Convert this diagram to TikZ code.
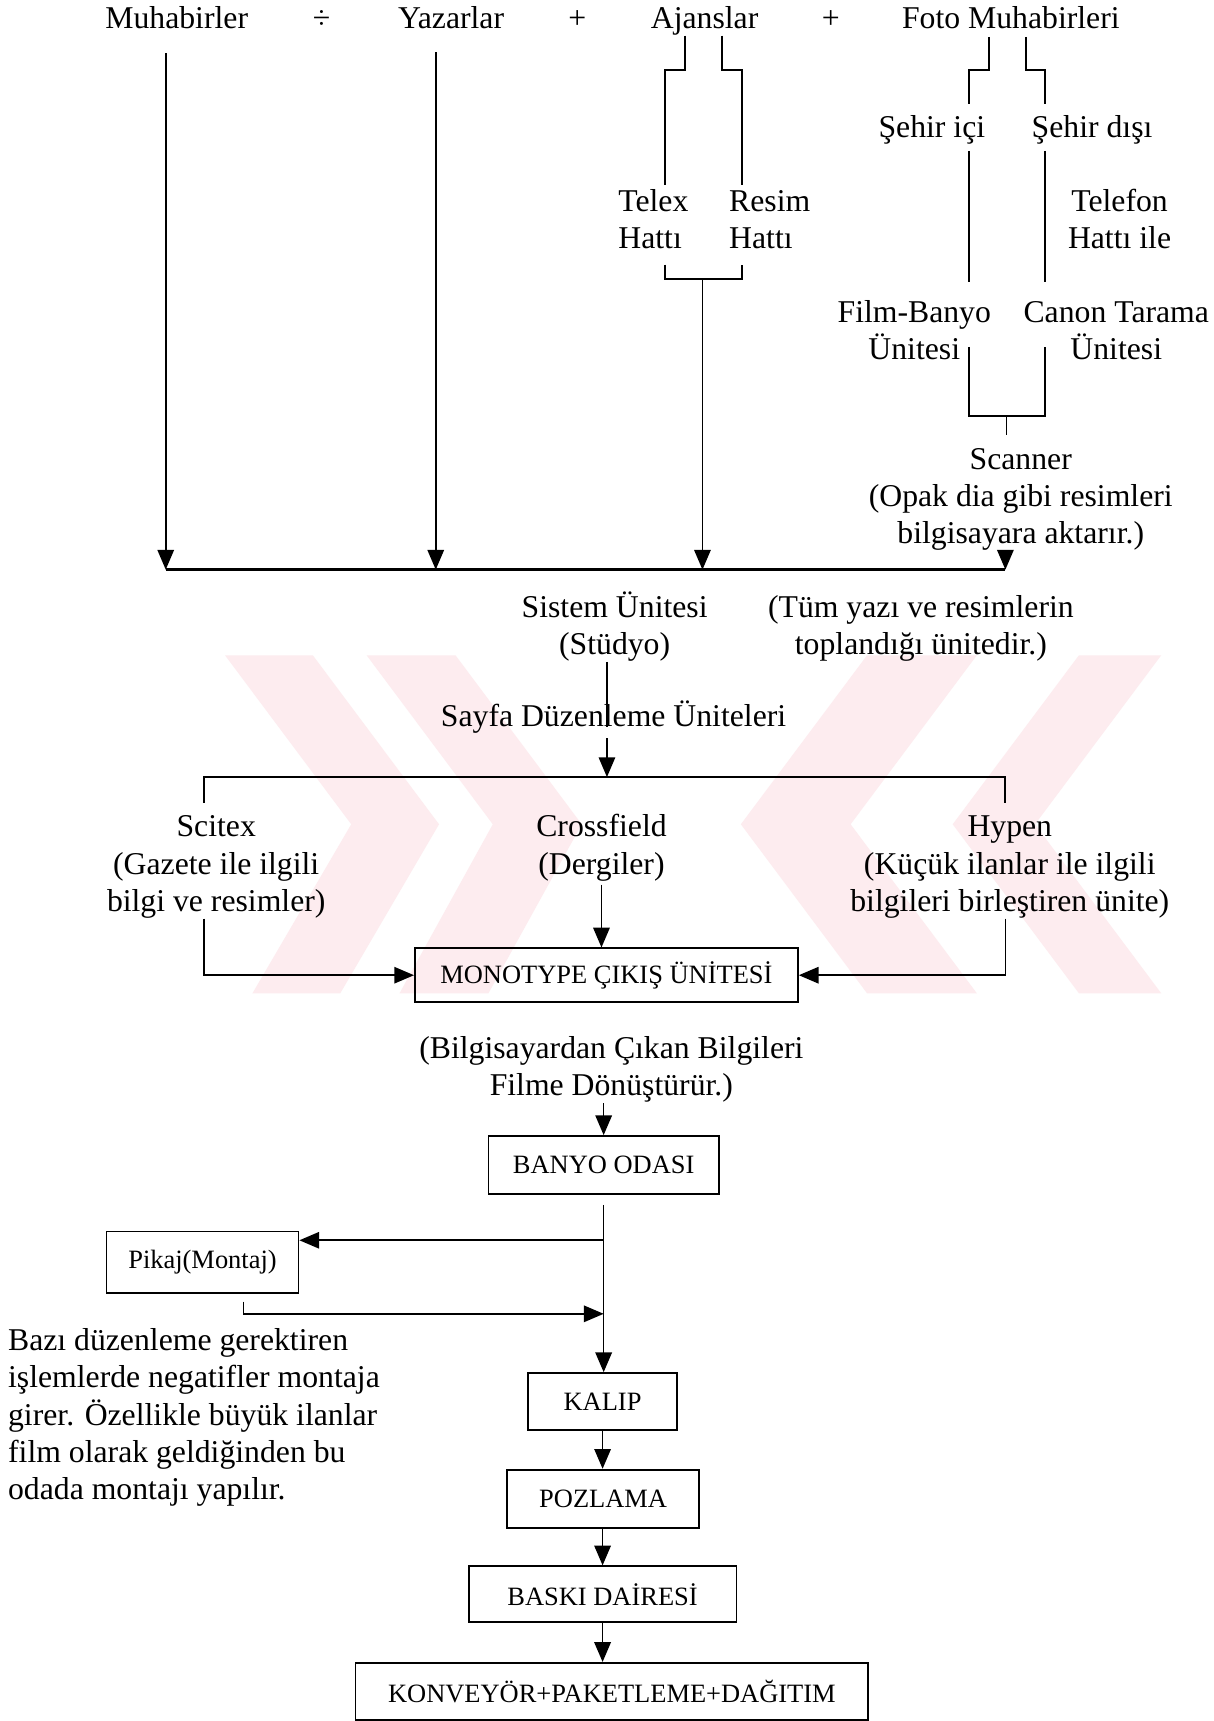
\documentclass[tikz,border=0pt]{standalone}
\usepackage{fontspec}
\setmainfont{Liberation Serif}
\usetikzlibrary{arrows.meta}
\definecolor{wm}{RGB}{253,236,239}
\newcommand\txtsz{\fontsize{14.45}{17}\selectfont}
\newcommand\boxsz{\fontsize{12.05}{14}\selectfont}
\begin{document}
\begin{tikzpicture}[x=0.5pt,y=-0.5pt,
  txt/.style={inner sep=0pt, font=\txtsz, anchor=base},
  ml/.style={inner sep=0pt, font=\txtsz, align=center, anchor=north},
  mll/.style={inner sep=0pt, font=\txtsz, align=left, anchor=north west},
  box/.style={draw, line width=0.8pt, inner sep=0pt, font=\boxsz},
  ln/.style={line width=0.75pt},
  busln/.style={line width=1.2pt},
  arr/.style={line width=0.75pt, -{Triangle[length=9pt,width=7.5pt]}},
]
\useasboundingbox (0,0) rectangle (1106,1568);
\fill[white] (0,0) rectangle (1106,1568);
% watermark
\fill[wm] (205,597) -- (285,597) -- (400,751) -- (310,905) -- (230,905) -- (320,751) -- cycle;
\fill[wm] (334,597) -- (415,597) -- (530,751) -- (445,905) -- (364,905) -- (449,751) -- cycle;
\fill[wm] (983,597) -- (1058,597) -- (943,751) -- (1058,905) -- (983,905) -- (868,751) -- cycle;
\fill[wm] (790,597) -- (890,597) -- (775,751) -- (890,905) -- (790,905) -- (675,751) -- cycle;

% top row
\node[txt] (muh) at (161,26) {Muhabirler};
\node[txt] (op1) at (293,26) {÷};
\node[txt] (yaz) at (411,26) {Yazarlar};
\node[txt] (op2) at (526,26) {+};
\node[txt] (ajs) at (642,26) {Ajanslar};
\node[txt] (op3) at (757,26) {+};
\node[txt] (foto) at (921,26) {Foto Muhabirleri};

% agencies
\node[mll] (telex) at (563,168.2) {\strut Telex\\Hattı};
\node[mll] (resim) at (664,168.2) {\strut Resim\\Hattı};
% photo reporters
\node[txt] (sic) at (849,125) {Şehir içi};
\node[txt] (sdi) at (995,125) {Şehir dışı};
\node[ml] (tel) at (1020,168.2) {\strut Telefon\\Hattı ile};
\node[ml] (film) at (833,269.2) {\strut Film-Banyo\\Ünitesi};
\node[ml] (canon) at (1017,269.2) {\strut Canon Tarama\\Ünitesi};
\node[ml] (scan) at (930,403.2) {\strut Scanner\\(Opak dia gibi resimleri\\bilgisayara aktarır.)};

\node[ml] (sis) at (560,538.2) {\strut Sistem Ünitesi\\(Stüdyo)};
\node[ml] (tum) at (839,538.2) {\strut (Tüm yazı ve resimlerin\\toplandığı ünitedir.)};
\node[txt] (sayfa) at (559,662) {Sayfa Düzenleme Üniteleri};

\node[ml] (scitex) at (197,738.2) {\strut Scitex\\(Gazete ile ilgili\\bilgi ve resimler)};
\node[ml] (cross) at (548,738.2) {\strut Crossfield\\(Dergiler)};
\node[ml] (hypen) at (920,738.2) {\strut Hypen\\(Küçük ilanlar ile ilgili\\bilgileri birleştiren ünite)};

\node[box, minimum width=174.5pt, minimum height=24.5pt] (mono) at (552.5,888.5) {MONOTYPE ÇIKIŞ ÜNİTESİ};
\node[ml] (bilg) at (557,940.2) {\strut (Bilgisayardan Çıkan Bilgileri\\Filme Dönüştürür.)};
\node[box, minimum width=105pt, minimum height=26.5pt] (banyo) at (550,1061.5) {BANYO ODASI};
\node[box, minimum width=87.5pt, minimum height=28pt] (pikaj) at (184.5,1150) {Pikaj(Montaj)};
\node[mll] (para) at (7,1206.2) {\strut Bazı düzenleme gerektiren\\işlemlerde negatifler montaja\\girer. Özellikle büyük ilanlar\\film olarak geldiğinden bu\\odada montajı yapılır.};
\node[box, minimum width=68pt, minimum height=26pt] (kalip) at (549,1277) {KALIP};
\node[box, minimum width=87.5pt, minimum height=26.5pt] (pozlama) at (549.5,1365.5) {POZLAMA};
\node[box, minimum width=122pt, minimum height=25.5pt] (baski) at (549,1452.5) {BASKI DAİRESİ};
\node[box, minimum width=233.5pt, minimum height=26pt] (konv) at (557.5,1541) {KONVEYÖR+PAKETLEME+DAĞITIM};

% bus
\coordinate (b1) at (151,519);
\coordinate (b2) at (397,519);
\coordinate (b3) at (640,519);
\coordinate (b4) at (916,519);
\draw[busln] (b1) -- (b4);
\draw[arr, shorten <=11pt] (muh.south -| b1) -- (b1);
\draw[arr, shorten <=10.5pt] (yaz.south -| b2) -- (b2);

% agency brackets
\coordinate (ajiL) at (624,64);
\coordinate (ajiR) at (658,64);
\coordinate (ajoL) at (606,64);
\coordinate (ajoR) at (676,64);
\draw[ln] (ajs.south -| ajiL) -- (ajiL) -- (ajoL) -- (telex.north -| ajoL);
\draw[ln] (ajs.south -| ajiR) -- (ajiR) -- (ajoR) -- (resim.north -| ajoR);
\coordinate (ajbL) at (606,254);
\coordinate (ajbR) at (676,254);
\coordinate (ajbC) at (640,254);
\draw[ln, shorten <=7pt, shorten >=7pt] (telex.south -| ajbL) -- (ajbL) -- (ajbR) -- (resim.south -| ajbR);
\draw[arr] (ajbC) -- (b3);

% photo brackets
\coordinate (fiL) at (901,64);
\coordinate (fiR) at (935,64);
\coordinate (foL) at (883,64);
\coordinate (foR) at (952,64);
\draw[ln, shorten <=3.5pt, shorten >=5pt] (foto.south -| fiL) -- (fiL) -- (foL) -- (sic.north -| foL);
\draw[ln, shorten <=3.5pt, shorten >=5pt] (foto.south -| fiR) -- (fiR) -- (foR) -- (sdi.north -| foR);
\draw[ln, shorten <=3pt, shorten >=6pt] (sic.south -| foL) -- (film.north -| foL);
\draw[ln, shorten <=3pt, shorten >=6pt] (sdi.south -| foR) -- (canon.north -| foR);
\coordinate (fbL0) at (883,316);
\coordinate (fbR0) at (952,316);
\coordinate (fbL) at (883,379);
\coordinate (fbR) at (952,379);
\coordinate (fbC) at (917,379);
\draw[ln] (fbL0) -- (fbL) -- (fbR) -- (fbR0);
\draw[ln, shorten >=3.5pt] (fbC) -- (scan.north -| fbC);
\draw[arr] (scan.south -| b4) -- (b4);

% system to page units
\coordinate (sb) at (553,708);
\draw[ln] (sis.south -| sb) -- (sayfa.base -| sb);
\draw[arr, shorten <=2pt] (sayfa.south -| sb) -- (sb);
\coordinate (sL) at (186,708);
\coordinate (sR) at (916,708);
\draw[ln, line width=0.9pt, shorten <=3.5pt, shorten >=3.5pt] (scitex.north -| sL) -- (sL) -- (sR) -- (hypen.north -| sR);
\draw[arr] (scitex.south -| sL) |- (mono.west);
\draw[arr] (hypen.south -| sR) |- (mono.east);
\draw[arr, shorten <=1.5pt] (cross.south) -- (mono.north -| cross.south);

% lower chain
\draw[arr] (bilg.south -| banyo.north) -- (banyo.north);
\draw[arr, shorten <=4.5pt] (banyo.south) -- (kalip.north -| banyo.south);
\coordinate (pk1) at (550,1130);
\coordinate (pk2) at (222,1197);
\draw[arr] (pk1) -- (pikaj.east |- pk1);
\draw[arr, shorten <=3.5pt] (pikaj.south -| pk2) -- (pk2) -- (pk1 |- pk2);
\draw[arr] (kalip.south) -- (pozlama.north -| kalip.south);
\draw[arr] (pozlama.south -| kalip.south) -- (baski.north -| kalip.south);
\draw[arr] (baski.south -| kalip.south) -- (konv.north -| kalip.south);
\end{tikzpicture}
\end{document}
